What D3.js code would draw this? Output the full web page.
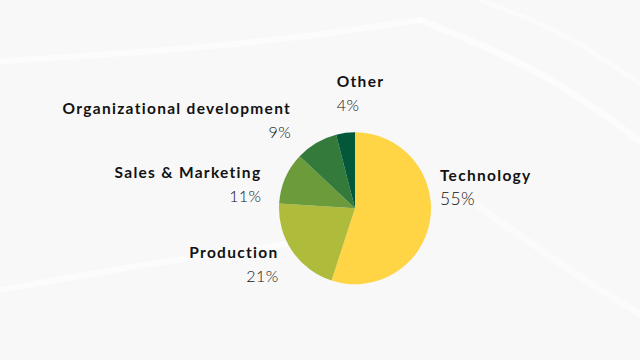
<!DOCTYPE html>
<html>
<head>
<meta charset="utf-8">
<script src="https://cdn.jsdelivr.net/npm/d3@7/dist/d3.min.js"></script>
<style>
  html, body { margin: 0; padding: 0; background: #f8f8f8; }
  svg { display: block; }
</style>
</head>
<body>
<svg id="chart" width="640" height="360"></svg>
<script>
// ---- data ----
const categories = ["Technology", "Production", "Sales & Marketing", "Organizational development", "Other"];
const values = [55, 21, 11, 9, 4];
const percentLabels = ["55%", "21%", "11%", "9%", "4%"];

// ---- styling / layout ----
const colors = ["#FFD545", "#AFBB3A", "#6B9B3A", "#337A3B", "#04583A"];
const labelSide = ["start", "end", "end", "end", "start"];
const labelNudge = [[-4, -41], [-2, -1], [-11, 5], [-18, -16.5], [-7, -32]];

const W = 640, H = 360;
const cx = 355, cy = 208.3, R = 76, labelR = 90;

const svg = d3.select("#chart");

// background
svg.append("rect").attr("width", W).attr("height", H).attr("fill", "#f8f8f8");
const bg = svg.append("g").attr("fill", "none").attr("stroke", "#ffffff").attr("stroke-linecap", "round");
const line = d3.line().curve(d3.curveBasis);
bg.append("path").attr("d", line([[-10, 62], [150, 52], [300, 38], [420, 20]])).attr("stroke-width", 6).attr("opacity", 0.55);
bg.append("path").attr("d", line([[-10, 292], [120, 268], [260, 248], [380, 230]])).attr("stroke-width", 6).attr("opacity", 0.55);
bg.append("path").attr("d", line([[420, 20], [520, 60], [600, 110], [650, 150]])).attr("stroke-width", 7).attr("opacity", 0.5);
bg.append("path").attr("d", line([[470, 200], [540, 250], [600, 290], [650, 320]])).attr("stroke-width", 7).attr("opacity", 0.45);
bg.append("path").attr("d", line([[480, 0], [560, 30], [620, 70], [650, 90]])).attr("stroke-width", 5).attr("opacity", 0.4);

const data = categories.map((c, i) => ({ name: c, value: values[i], pct: percentLabels[i], i }));

const pie = d3.pie().value(d => d.value).sort(null).startAngle(0).endAngle(2 * Math.PI);
const arcs = pie(data);
const arc = d3.arc().innerRadius(0).outerRadius(R);

const g = svg.append("g").attr("transform", `translate(${cx},${cy})`);
g.selectAll("path.slice")
  .data(arcs)
  .join("path")
  .attr("class", "slice")
  .attr("d", arc)
  .attr("fill", d => colors[d.data.i]);

const labels = g.selectAll("g.label")
  .data(arcs)
  .join("g")
  .attr("class", "label")
  .attr("transform", d => {
    const a = (d.startAngle + d.endAngle) / 2;
    const x = Math.sin(a) * labelR + labelNudge[d.data.i][0];
    const y = -Math.cos(a) * labelR + labelNudge[d.data.i][1];
    return `translate(${x},${y})`;
  });

labels.append("text")
  .attr("text-anchor", d => labelSide[d.data.i])
  .attr("font-family", "Lato, 'Open Sans', sans-serif")
  .attr("font-weight", 700)
  .attr("font-size", 15.5)
  .attr("letter-spacing", 1.3)
  .attr("fill", "#121212")
  .text(d => d.data.name);

labels.append("text")
  .attr("text-anchor", d => labelSide[d.data.i])
  .attr("y", 24)
  .attr("font-family", "Lato, 'Open Sans', sans-serif")
  .attr("font-weight", 300)
  .attr("font-size", d => d.data.i === 0 ? 17.5 : 16)
  .attr("letter-spacing", 0.4)
  .attr("fill", "#111111")
  .text(d => d.data.pct);
</script>
</body>
</html>
